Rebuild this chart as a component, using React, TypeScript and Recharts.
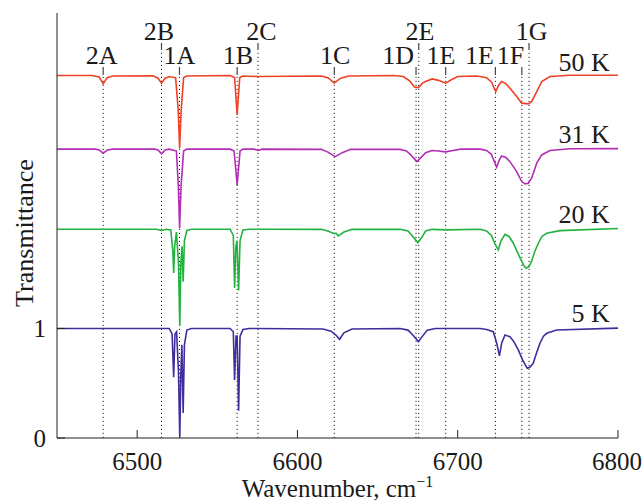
import React from 'react';
import { LineChart, Line, XAxis, YAxis, ReferenceLine, ReferenceDot } from 'recharts';

document.body.style.margin = '0';

// spectra: [wavenumber cm-1, offset transmittance]
const k50: [number, number][] = [
  [6450, 3.309], [6472, 3.309], [6476.3, 3.295], [6478.8, 3.235], [6481.3, 3.29], [6485, 3.305],
  [6510, 3.306], [6513, 3.285], [6515.2, 3.239], [6517.5, 3.285], [6520, 3.298], [6524, 3.29],
  [6525.6, 3.0], [6526.5, 2.648], [6527.5, 3.0], [6529, 3.29], [6531, 3.305],
  [6558, 3.31], [6560.8, 3.29], [6562.4, 2.95], [6564, 3.29], [6566, 3.305],
  [6575.4, 3.3], [6615, 3.305], [6619, 3.29], [6623, 3.242], [6627, 3.285], [6632, 3.305],
  [6660, 3.31], [6666, 3.3], [6670, 3.26], [6673, 3.205], [6675.5, 3.199], [6678, 3.24],
  [6680, 3.254], [6684, 3.278], [6688, 3.265], [6692.5, 3.239], [6696, 3.27], [6700, 3.3],
  [6712, 3.305], [6718, 3.29], [6721, 3.25], [6723.7, 3.163], [6725.5, 3.22], [6727.4, 3.254],
  [6730, 3.235], [6732.6, 3.193], [6736.8, 3.117], [6739.9, 3.057], [6744, 3.05], [6746.1, 3.071],
  [6749.3, 3.163], [6752.4, 3.254], [6757.5, 3.3], [6770, 3.312], [6800, 3.312],
];

const k31: [number, number][] = [
  [6450, 2.637], [6474, 2.637], [6476.3, 2.63], [6478.8, 2.6], [6481.5, 2.63], [6485, 2.637],
  [6511, 2.637], [6513, 2.63], [6515.2, 2.594], [6517.5, 2.63], [6520, 2.637], [6524.5, 2.62],
  [6525.7, 2.3], [6526.5, 1.918], [6527.4, 2.3], [6529, 2.62], [6531, 2.637],
  [6558, 2.637], [6560.5, 2.62], [6562.4, 2.311], [6564.2, 2.62], [6566, 2.637],
  [6573, 2.637], [6575.4, 2.625], [6578, 2.637], [6615, 2.635], [6619, 2.61], [6623.5, 2.569],
  [6628, 2.605], [6633, 2.635], [6664, 2.635], [6668, 2.62], [6671, 2.58], [6674.5, 2.523],
  [6677, 2.56], [6680, 2.605], [6684, 2.625], [6688, 2.62], [6692.5, 2.612], [6697, 2.625],
  [6702, 2.637], [6714, 2.637], [6718, 2.625], [6721, 2.59], [6724.3, 2.472], [6726, 2.54],
  [6727.4, 2.575], [6730, 2.562], [6732.6, 2.523], [6736.8, 2.432], [6739.9, 2.341],
  [6742, 2.32], [6744, 2.326], [6746.1, 2.372], [6749.3, 2.509], [6752.4, 2.584],
  [6757.5, 2.624], [6770, 2.64], [6800, 2.642],
];

const k20: [number, number][] = [
  [6450, 1.906], [6512, 1.906], [6515.2, 1.895], [6518, 1.906], [6521, 1.9], [6522.3, 1.7],
  [6522.8, 1.507], [6523.4, 1.75], [6524.5, 1.88], [6525.8, 1.6], [6526.6, 1.023], [6527.3, 1.6],
  [6528, 1.75], [6528.7, 1.427], [6529.5, 1.8], [6531, 1.895], [6534, 1.906],
  [6558, 1.906], [6560, 1.85], [6560.8, 1.37], [6561.6, 1.75], [6562.3, 1.8], [6563.3, 1.347],
  [6564.2, 1.8], [6566, 1.9], [6570, 1.906], [6615, 1.905], [6619, 1.89], [6623, 1.865],
  [6624, 1.87], [6625.5, 1.845], [6629, 1.88], [6634, 1.905], [6664, 1.906], [6669, 1.89],
  [6672, 1.84], [6675.1, 1.784], [6677.5, 1.83], [6680, 1.89], [6684, 1.905], [6692.5, 1.9],
  [6714, 1.906], [6718, 1.89], [6721, 1.85], [6723, 1.78], [6725.3, 1.717], [6727, 1.8],
  [6729.5, 1.86], [6732, 1.84], [6734.7, 1.778], [6738.9, 1.644], [6741, 1.58], [6742.6, 1.55],
  [6744.5, 1.565], [6746, 1.61], [6748, 1.7], [6750.3, 1.778], [6752.5, 1.84], [6755.5, 1.869],
  [6763.8, 1.893], [6800, 1.912],
];

const k5: [number, number][] = [
  [6450, 1.0], [6520, 1.0], [6521.8, 0.95], [6522.8, 0.554], [6523.6, 0.95], [6524.6, 0.97],
  [6525.8, 0.6], [6526.6, 0.01], [6527.3, 0.6], [6527.9, 0.85], [6528.7, 0.228], [6529.5, 0.85],
  [6531, 0.985], [6534, 1.0], [6558, 1.0], [6560, 0.97], [6560.8, 0.53], [6561.7, 0.93],
  [6562.4, 0.93], [6563.3, 0.249], [6564.2, 0.93], [6566, 0.99], [6570, 1.0],
  [6616, 0.995], [6621, 0.975], [6624, 0.94], [6626.3, 0.901], [6629, 0.96], [6634, 0.995],
  [6664, 1.0], [6669, 0.985], [6672, 0.94], [6675.5, 0.88], [6678, 0.93], [6681, 0.985],
  [6686, 1.0], [6714, 1.0], [6718, 0.99], [6722.2, 0.97], [6724.3, 0.868], [6726, 0.749],
  [6727.5, 0.87], [6729.5, 0.94], [6732.6, 0.924], [6735, 0.88], [6737.8, 0.804],
  [6740.5, 0.71], [6743.4, 0.636], [6745, 0.645], [6747.1, 0.682], [6749, 0.77],
  [6751.3, 0.865], [6753.5, 0.93], [6755.5, 0.956], [6761.7, 0.986], [6800, 1.003],
];

// assigned lines: name, wavenumber, upper row?
const peakNames = ['2A', '2B', '1A', '1B', '2C', '1C', '1D', '2E', '1E', '1E', '1F', '1G'];
const peakWn = [6478.8, 6515.2, 6526.4, 6562.4, 6575.4, 6623.0, 6674.0, 6675.7, 6692.5, 6723.5, 6740.0, 6744.5];
const peakUpper = [false, true, false, false, true, false, false, true, false, false, false, true];

const tempLabels = ['50 K', '31 K', '20 K', '5 K'];
const tempLabelY = [3.434, 2.772, 2.046, 1.137];

const xTicks = [6500, 6600, 6700, 6800];
const yTicks = [0, 1];

// layout only
const labelDx = [-1.4, -2.7, 0, 0.8, 3.3, 1, -18, 1.3, -4.7, -16, -11.4, 2.7];
const FONT = 'Liberation Serif, DejaVu Serif, serif';
const Y_TOP = 3.88;

const series = [
  { key: '50K', data: k50, color: '#ee4226' },
  { key: '31K', data: k31, color: '#b32db5' },
  { key: '20K', data: k20, color: '#22b23e' },
  { key: '5K', data: k5, color: '#3d2e9e' },
];

const toRows = (pts: [number, number][]) => pts.map(([w, v]) => ({ w, v }));

const txt = (size: number) => ({ fontFamily: FONT, fontSize: size, fill: '#1a1a1a', style: { fontFamily: FONT } });

export default function App() {
  return (
    <div style={{ fontFamily: FONT, width: 642, height: 502 }}>
      <LineChart width={642} height={502} margin={{ top: 13, right: 24, bottom: 0, left: 7 }}>
        <XAxis
          dataKey="w"
          type="number"
          domain={[6450, 6800]}
          ticks={xTicks}
          allowDataOverflow
          height={64}
          tickSize={-8}
          tickMargin={22}
          stroke="#222"
          tick={txt(25)}
          label={(props: any) => {
            const vb = props.viewBox;
            return (
              <text x={vb.x + vb.width / 2} y={497} textAnchor="middle" {...txt(25)}>
                Wavenumber, cm
                <tspan dy={-10} fontSize={16}>−1</tspan>
              </text>
            );
          }}
        />
        <XAxis xAxisId="top" orientation="top" type="number" domain={[6450, 6800]} height={0} tick={false} tickLine={false} stroke="#222" />
        <YAxis
          type="number"
          domain={[0, Y_TOP]}
          ticks={yTicks}
          allowDataOverflow
          width={50}
          tickSize={-8}
          tickMargin={19}
          stroke="#222"
          tick={txt(25)}
          label={() => {
            const cy = 233;
            return (
              <text x={24} y={cy} transform={`rotate(-90, 24, ${cy})`} textAnchor="middle" dominantBaseline="central" {...txt(26)}>
                Transmittance
              </text>
            );
          }}
        />
        <YAxis yAxisId="right" orientation="right" type="number" domain={[0, Y_TOP]} width={0} tick={false} tickLine={false} stroke="#222" />

        {peakWn.map((w, i) => (
          <ReferenceLine
            key={`dot-${i}`}
            segment={[{ x: w, y: 0 }, { x: w, y: peakUpper[i] ? 3.543 : 3.315 }]}
            stroke="#222"
            strokeWidth={1}
            strokeDasharray="1.2 2.8"
            ifOverflow="visible"
          />
        ))}

        {series.map((s) => (
          <Line
            key={s.key}
            data={toRows(s.data)}
            dataKey="v"
            type="linear"
            stroke={s.color}
            strokeWidth={1.6}
            dot={false}
            isAnimationActive={false}
          />
        ))}

        {peakWn.map((w, i) => (
          <ReferenceLine
            key={`tick-${i}`}
            segment={[
              { x: w, y: peakUpper[i] ? 3.543 : 3.315 },
              { x: w, y: peakUpper[i] ? 3.607 : 3.388 },
            ]}
            stroke="#444"
            strokeWidth={1.2}
            ifOverflow="visible"
            label={(props: any) => {
              const vb = props.viewBox;
              return (
                <text x={vb.x + labelDx[i]} y={vb.y - 2.5} textAnchor="middle" {...txt(26)}>
                  {peakNames[i]}
                </text>
              );
            }}
          />
        ))}

        {tempLabels.map((t, i) => (
          <ReferenceDot
            key={t}
            x={6794.9}
            y={tempLabelY[i]}
            r={0}
            fill="none"
            stroke="none"
            ifOverflow="visible"
            label={(props: any) => {
              const vb = props.viewBox;
              return (
                <text x={vb.x} y={vb.y + 9} textAnchor="end" {...txt(26)}>
                  {t}
                </text>
              );
            }}
          />
        ))}
      </LineChart>
    </div>
  );
}
